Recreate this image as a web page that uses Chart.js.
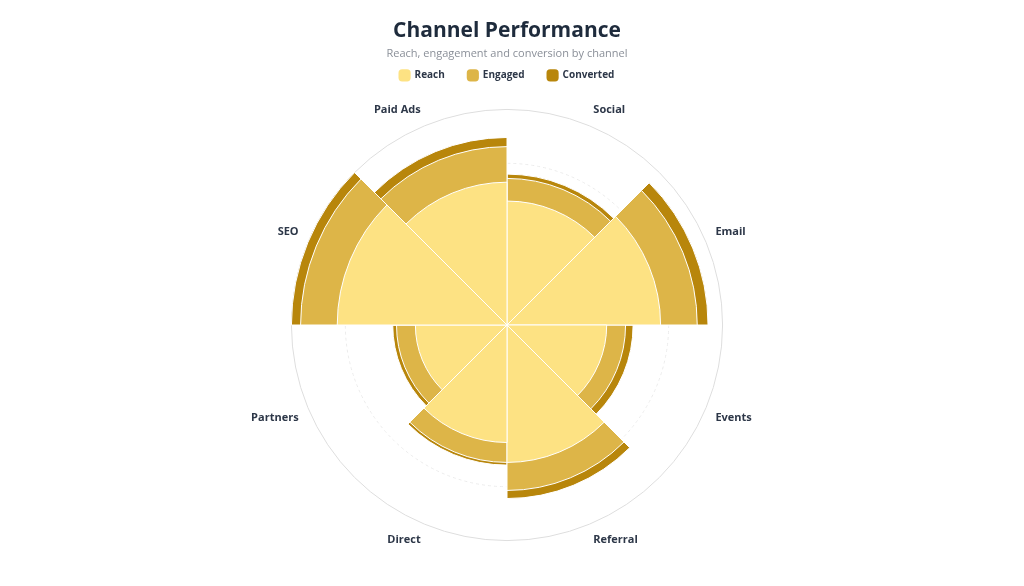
<!DOCTYPE html>
<html lang="en">
<head>
    <meta charset="UTF-8">
    <title>Channel Performance</title>
    <script src="https://cdn.jsdelivr.net/npm/chart.js"></script>
    <style>
        html, body { margin: 0; padding: 0; background: #ffffff; }
        #wrap { width: 1024px; height: 586px; position: relative; }
    </style>
</head>
<body>
<div id="wrap"><canvas id="polar-chart"></canvas></div>
<script>
    // channels, clockwise from 12 o'clock
    const channels = ['Social', 'Email', 'Events', 'Referral', 'Direct', 'Partners', 'SEO', 'Paid Ads'];
    const reach = [230, 285, 185, 255, 218, 170, 315, 265];
    const engaged = [42, 68, 35, 52, 37, 35, 68, 66];
    const converted = [8, 20, 14, 15, 5, 7, 17, 17];
    const scaleMax = 400;

    // polar area has no stacking, so each ring is drawn out to its running total
    const engagedTop = reach.map((v, i) => v + engaged[i]);
    const convertedTop = engagedTop.map((v, i) => v + converted[i]);

    // a little breathing room under the legend
    const legendGap = {
        id: 'legendGap',
        beforeInit(chart) {
            const fit = chart.legend.fit;
            chart.legend.fit = function () {
                fit.bind(chart.legend)();
                this.height += 13;
            };
        }
    };

    const ctx = document.getElementById('polar-chart').getContext('2d');
    new Chart(ctx, {
        type: 'polarArea',
        data: {
            labels: channels,
            datasets: [
                { label: 'Reach', data: reach, backgroundColor: '#fde283', borderColor: '#ffffff', borderWidth: 1 },
                { label: 'Engaged', data: engagedTop, backgroundColor: '#ddb548', borderColor: '#ffffff', borderWidth: 1 },
                { label: 'Converted', data: convertedTop, backgroundColor: '#b8860b', borderColor: '#ffffff', borderWidth: 1 }
            ]
        },
        plugins: [legendGap],
        options: {
            responsive: true,
            maintainAspectRatio: false,
            animation: false,
            layout: { padding: { top: 4, bottom: 38, right: 10 } },
            scales: {
                r: {
                    min: 0,
                    max: scaleMax,
                    startAngle: 0,
                    ticks: { display: false, stepSize: 100 },
                    angleLines: { display: false },
                    grid: {
                        circular: true,
                        color: ctx => ctx.tick && ctx.tick.value === scaleMax ? '#dedede' : '#ececec'
                    },
                    border: {
                        dash: ctx => ctx.tick && ctx.tick.value === scaleMax ? [] : [3, 3]
                    },
                    pointLabels: {
                        display: true,
                        centerPointLabels: true,
                        padding: 10,
                        color: '#2d3748',
                        font: { family: "'Open Sans', sans-serif", size: 11, weight: 'bold' }
                    }
                }
            },
            plugins: {
                title: {
                    display: true,
                    text: 'Channel Performance',
                    color: '#1e2b3c',
                    font: { family: "'Open Sans', sans-serif", size: 21, weight: 'bold' },
                    padding: { top: 14, bottom: 4 }
                },
                subtitle: {
                    display: true,
                    text: 'Reach, engagement and conversion by channel',
                    color: '#8a8f98',
                    font: { family: "'Open Sans', sans-serif", size: 11 },
                    padding: { top: 0, bottom: -13 }
                },
                legend: {
                    position: 'top',
                    onClick: function (e, item, legend) {
                        const chart = legend.chart;
                        chart.setDatasetVisibility(item.datasetIndex, !chart.isDatasetVisible(item.datasetIndex));
                        chart.update();
                    },
                    labels: {
                        usePointStyle: true,
                        pointStyle: 'rectRounded',
                        boxWidth: 12,
                        boxHeight: 12,
                        padding: 23,
                        color: '#2d3748',
                        font: { family: "'Open Sans', sans-serif", size: 10, weight: 'bold' },
                        generateLabels: function (chart) {
                            return chart.data.datasets.map((ds, i) => ({
                                text: ds.label,
                                fillStyle: ds.backgroundColor,
                                strokeStyle: ds.backgroundColor,
                                lineWidth: 0,
                                pointStyle: 'rectRounded',
                                fontColor: '#2d3748',
                                hidden: !chart.isDatasetVisible(i),
                                datasetIndex: i
                            }));
                        }
                    }
                },
                tooltip: {
                    callbacks: {
                        label: function (item) {
                            const series = [reach, engaged, converted][item.datasetIndex];
                            return item.dataset.label + ': ' + series[item.dataIndex];
                        }
                    }
                }
            }
        }
    });
</script>
</body>
</html>
